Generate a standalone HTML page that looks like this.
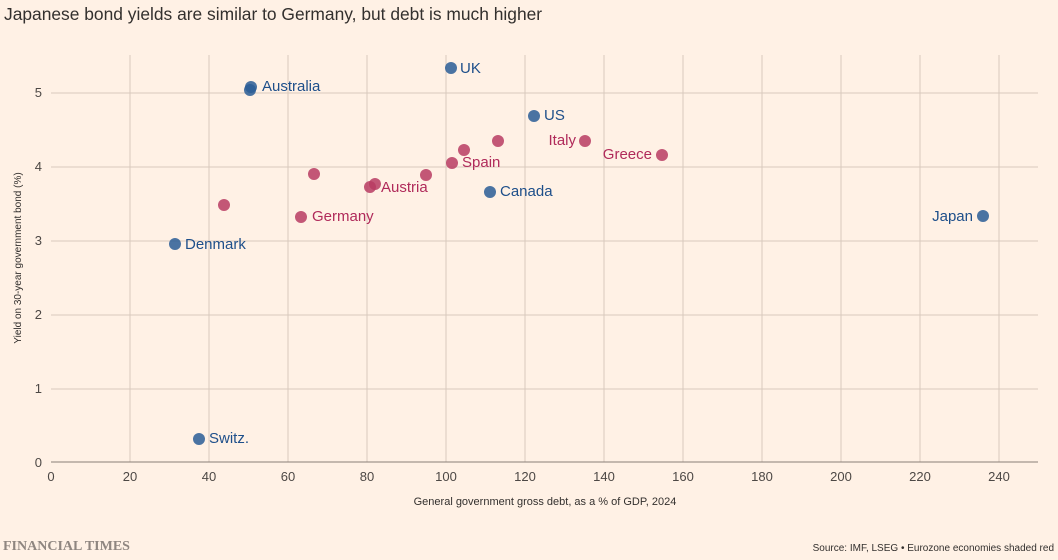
<!DOCTYPE html><html><head><style>
body{margin:0;background:#fff1e5;font-family:"Liberation Sans",sans-serif;}
</style></head><body>
<svg width="1058" height="560" xmlns="http://www.w3.org/2000/svg" style="display:block;background:#fff1e5">
<text x="4" y="20" font-size="17.4" fill="#33302e">Japanese bond yields are similar to Germany, but debt is much higher</text>
<g stroke="#d8c9bd" stroke-width="1">
<line x1="51" y1="389" x2="1038" y2="389"/><line x1="51" y1="315" x2="1038" y2="315"/><line x1="51" y1="241" x2="1038" y2="241"/><line x1="51" y1="167" x2="1038" y2="167"/><line x1="51" y1="93" x2="1038" y2="93"/>
<line x1="130" y1="55" x2="130" y2="462"/><line x1="209" y1="55" x2="209" y2="462"/><line x1="288" y1="55" x2="288" y2="462"/><line x1="367" y1="55" x2="367" y2="462"/><line x1="446" y1="55" x2="446" y2="462"/><line x1="525" y1="55" x2="525" y2="462"/><line x1="604" y1="55" x2="604" y2="462"/><line x1="683" y1="55" x2="683" y2="462"/><line x1="762" y1="55" x2="762" y2="462"/><line x1="841" y1="55" x2="841" y2="462"/><line x1="920" y1="55" x2="920" y2="462"/><line x1="999" y1="55" x2="999" y2="462"/>
</g>
<line x1="51" y1="462" x2="1038" y2="462" stroke="#8a7f77" stroke-width="1"/>
<g font-size="13" fill="#4d4845" text-anchor="end">
<text x="42" y="467">0</text><text x="42" y="393">1</text><text x="42" y="319">2</text><text x="42" y="245">3</text><text x="42" y="171">4</text><text x="42" y="97">5</text></g>
<g font-size="13" fill="#4d4845" text-anchor="middle">
<text x="51" y="481">0</text><text x="130" y="481">20</text><text x="209" y="481">40</text><text x="288" y="481">60</text><text x="367" y="481">80</text><text x="446" y="481">100</text><text x="525" y="481">120</text><text x="604" y="481">140</text><text x="683" y="481">160</text><text x="762" y="481">180</text><text x="841" y="481">200</text><text x="920" y="481">220</text><text x="999" y="481">240</text></g>
<text x="545" y="505" font-size="11" fill="#33302e" text-anchor="middle">General government gross debt, as a % of GDP, 2024</text>
<text transform="translate(21,258) rotate(-90)" font-size="10" fill="#33302e" text-anchor="middle">Yield on 30-year government bond (%)</text>
<g fill="#2a5d96" fill-opacity="0.85">
<circle cx="451" cy="68" r="6"/><circle cx="251" cy="87" r="6"/><circle cx="250" cy="90" r="6"/><circle cx="534" cy="116" r="6"/><circle cx="490" cy="192" r="6"/><circle cx="983" cy="216" r="6"/><circle cx="175" cy="244" r="6"/><circle cx="199" cy="439" r="6"/></g>
<g fill="#b93c63" fill-opacity="0.85">
<circle cx="464" cy="150" r="6"/><circle cx="498" cy="141" r="6"/><circle cx="585" cy="141" r="6"/><circle cx="662" cy="155" r="6"/><circle cx="452" cy="163" r="6"/><circle cx="314" cy="174" r="6"/><circle cx="426" cy="175" r="6"/><circle cx="370" cy="187" r="6"/><circle cx="375" cy="184" r="6"/><circle cx="224" cy="205" r="6"/><circle cx="301" cy="217" r="6"/></g>
<g font-size="15" fill="#1e4f8a">
<text x="460" y="73">UK</text><text x="262" y="91">Australia</text><text x="544" y="120">US</text><text x="500" y="196">Canada</text><text x="973" y="221" text-anchor="end">Japan</text><text x="185" y="249">Denmark</text><text x="209" y="443">Switz.</text></g>
<g font-size="15" fill="#b02a5a">
<text x="576" y="145" text-anchor="end">Italy</text><text x="652" y="159" text-anchor="end">Greece</text><text x="462" y="167">Spain</text><text x="381" y="192">Austria</text><text x="312" y="221">Germany</text></g>
<text x="3" y="550" font-family="Liberation Serif,serif" font-size="14" font-weight="bold" fill="#8f8680">FINANCIAL TIMES</text>
<text x="1054" y="551" font-size="10" fill="#33302e" text-anchor="end">Source: IMF, LSEG • Eurozone economies shaded red</text>
</svg>
</body></html>
